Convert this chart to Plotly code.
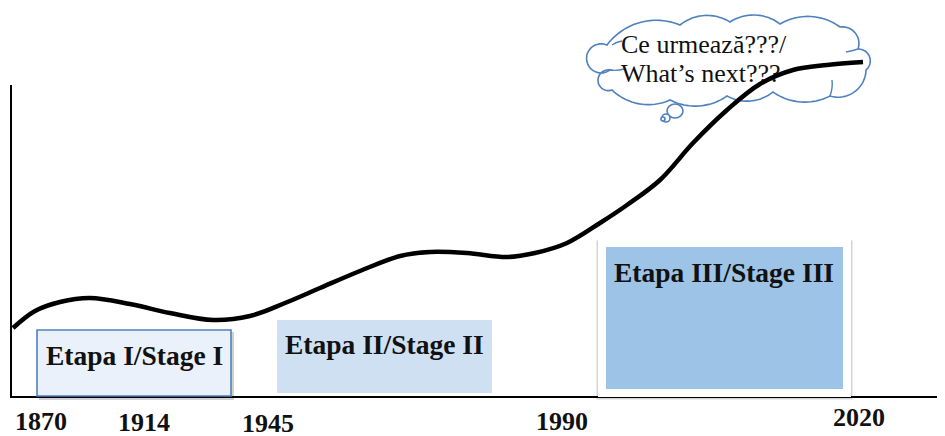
import math
import plotly.graph_objects as go

# ---------------- data ----------------
# conceptual development curve (x = timeline position, y = level above baseline)
curve_x = [13, 35, 60, 90, 130, 170, 213, 250, 285, 320, 360, 400, 430, 467,
           507, 535, 567, 600, 627, 660, 693, 727, 760, 793, 827, 863]
curve_y = [69, 86, 95, 99, 93, 84, 77, 81, 94, 109, 126, 141, 145, 144,
           140, 144, 154, 174, 192, 217, 254, 287, 313, 327, 332, 335]

year_labels = ["1870", "1914", "1945", "1990", "2020"]
year_pos = [41, 144, 268, 562, 859]
year_off = [-26, -27, -28, -26, -22]

stage_labels = ["Etapa I/Stage I", "Etapa II/Stage II", "Etapa III/Stage III"]
cloud_lines = ["Ce urmează???/", "What’s next???"]

# ---------------- layout helpers ----------------
W, H = 945, 436
PAGE_MARGIN = 8     # default body margin of the html page
BASE = 397          # pixel row of the baseline
def Y(py):           # pixel row -> data value
    return BASE - py

SERIF = "Liberation Serif, Times New Roman, serif"
BLUE = "#4F81BD"


def cloud_path(cusps, bulges, centre):
    """Scalloped outline: circular arcs between successive cusps (pixel coords)."""
    pts = []
    n = len(cusps)
    for i in range(n):
        (x0, y0), (x1, y1) = cusps[i], cusps[(i + 1) % n]
        s = bulges[i]
        mx, my = (x0 + x1) / 2, (y0 + y1) / 2
        dx, dy = x1 - x0, y1 - y0
        c = math.hypot(dx, dy)
        nx, ny = -dy / c, dx / c
        if nx * (mx - centre[0]) + ny * (my - centre[1]) < 0:
            nx, ny = -nx, -ny
        r = (c * c / 4 + s * s) / (2 * s)
        cx, cy = mx + nx * (s - r), my + ny * (s - r)
        a0 = math.atan2(y0 - cy, x0 - cx)
        a1 = math.atan2(y1 - cy, x1 - cx)
        aa = math.atan2(ny, nx)
        best = None
        for d in ((a1 - a0) % (2 * math.pi), (a1 - a0) % (2 * math.pi) - 2 * math.pi):
            mid = a0 + d / 2
            err = abs(math.atan2(math.sin(mid - aa), math.cos(mid - aa)))
            if best is None or err < best[0]:
                best = (err, d)
        d = best[1]
        steps = 24
        for k in range(steps):
            a = a0 + d * k / steps
            pts.append((cx + r * math.cos(a), cy + r * math.sin(a)))
    path = "M " + " L ".join(f"{x:.1f},{Y(y):.1f}" for x, y in pts) + " Z"
    return path


shapes = []

# axes
shapes.append(dict(type="line", x0=11, x1=945, y0=0, y1=0, layer="below",
                   line=dict(color="black", width=2)))
shapes.append(dict(type="line", x0=11, x1=11, y0=-1, y1=Y(85), layer="below",
                   line=dict(color="black", width=2)))

# thought cloud
cusps = [(607, 45), (680, 25), (730, 22), (780, 24), (840, 27), (858, 49),
         (866, 70), (830, 96), (773, 92), (727, 96), (670, 100), (612, 90), (610, 70)]
bulges = [13, 8, 8, 9, 8, 8, 11, 8, 7, 8, 9, 13, 22]
shapes.append(dict(type="path", layer="below", path=cloud_path(cusps, bulges, (735, 60)),
                   fillcolor="white", line=dict(color=BLUE, width=1.6)))
# small inner hooks typical of the cloud callout
for (x0, y0), (x1, y1), (x2, y2) in [((610, 70), (617, 71), (624, 69)),
                                      ((612, 45), (616, 42), (622, 41)),
                                      ((830, 96), (833, 88), (832, 80)),
                                      ((858, 49), (852, 51), (846, 52))]:
    shapes.append(dict(type="path", layer="below",
                       path=f"M {x0},{Y(y0)} Q {x1},{Y(y1)} {x2},{Y(y2)}",
                       line=dict(color=BLUE, width=1.4)))
# thought bubbles
for cx, cy, rx, ry in [(675, 111, 8, 7), (666, 118, 4, 4), (663, 119, 2, 2)]:
    shapes.append(dict(type="circle", layer="below", x0=cx - rx, x1=cx + rx,
                       y0=Y(cy + ry), y1=Y(cy - ry), fillcolor="white",
                       line=dict(color=BLUE, width=1.6)))

# stage boxes
# box 1 (shadow + light fill + blue border)
shapes.append(dict(type="rect", x0=39, x1=234, y0=-3, y1=Y(332),
                   fillcolor="rgba(0,0,0,0.18)", line=dict(width=0)))
shapes.append(dict(type="rect", x0=37, x1=231, y0=1, y1=Y(330),
                   fillcolor="#EAF1FA", line=dict(color=BLUE, width=1.6)))
# box 2
shapes.append(dict(type="rect", x0=277, x1=492, y0=Y(393), y1=Y(320),
                   fillcolor="#CFE0F3", line=dict(width=0)))
# box 3 (white frame with soft shadow, then fill)
shapes.append(dict(type="rect", x0=596, x1=853, y0=Y(400), y1=Y(240),
                   fillcolor="rgba(0,0,0,0.08)", line=dict(width=0)))
shapes.append(dict(type="rect", x0=597, x1=852, y0=Y(399), y1=Y(241),
                   fillcolor="rgba(0,0,0,0.10)", line=dict(width=0)))
shapes.append(dict(type="rect", x0=598, x1=851, y0=Y(397), y1=Y(240),
                   fillcolor="white", line=dict(width=0)))
shapes.append(dict(type="rect", x0=606, x1=843, y0=Y(389), y1=Y(247),
                   fillcolor="#9DC3E6", line=dict(width=0)))

fig = go.Figure()

# cloud text (drawn before the curve so the curve passes over it)
fig.add_trace(go.Scatter(
    x=[621, 621], y=[Y(46), Y(75)], mode="text", text=cloud_lines,
    textposition="middle right", hoverinfo="skip", showlegend=False,
    textfont=dict(family=SERIF, size=26, color="#111111")))

# year labels
fig.add_trace(go.Scatter(
    x=year_pos, y=year_off, mode="text", text=year_labels,
    textposition="middle center", hoverinfo="skip", showlegend=False,
    cliponaxis=False,
    textfont=dict(family=SERIF, size=26, color="#111111", weight="bold")))

# the development curve
fig.add_trace(go.Scatter(
    x=curve_x, y=curve_y, mode="lines", hoverinfo="skip", showlegend=False,
    line=dict(color="black", width=4.5, shape="spline", smoothing=1.0)))

annotations = []
for lbl, x, py in zip(stage_labels, [134, 384, 724], [355, 344, 272]):
    annotations.append(dict(x=x, y=Y(py), text=lbl, showarrow=False,
                            xanchor="center", yanchor="middle",
                            font=dict(family=SERIF, size=27.5, color="#111111",
                                      weight="bold")))

# the page puts the figure 8px in from the top-left, so the figure is made
# 8px smaller and its ranges start 8px in, keeping page pixels = data units
fig.update_layout(
    width=W - PAGE_MARGIN, height=H - PAGE_MARGIN,
    margin=dict(l=0, r=0, t=0, b=0),
    paper_bgcolor="white", plot_bgcolor="white",
    xaxis=dict(range=[PAGE_MARGIN, W], visible=False, fixedrange=True),
    yaxis=dict(range=[BASE - H, BASE - PAGE_MARGIN], visible=False, fixedrange=True),
    shapes=shapes, annotations=annotations, showlegend=False)

fig.write_html("out.html", config={"displayModeBar": False})
